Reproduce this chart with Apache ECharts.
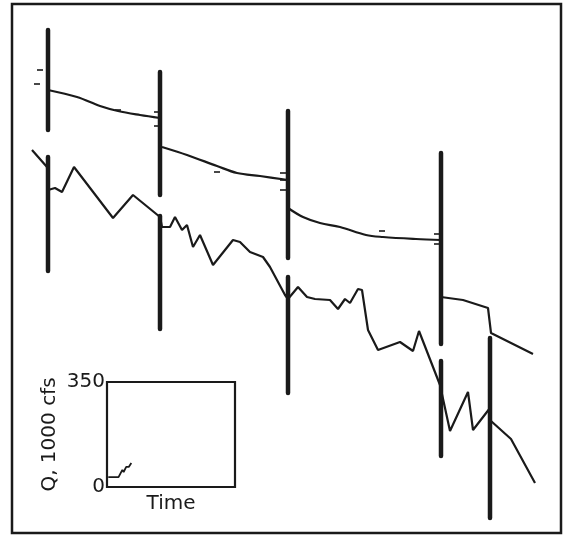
<!DOCTYPE html>
<html>
<head>
<meta charset="utf-8">
<script src="https://cdn.jsdelivr.net/npm/echarts@6/dist/echarts.min.js"></script>
<style>html,body{margin:0;padding:0;background:#fff}#c{width:566px;height:536px}</style>
</head>
<body>
<div id="c"></div>
<script>
// Main panel (arbitrary time / stage units)
const barSegments = [
  [36, 503, 403], [36, 376, 262],
  [148, 461, 338], [148, 317, 204],
  [276, 422, 275], [276, 256, 140],
  [429, 380, 189], [429, 172, 77],
  [478, 195, 15]
];
const upper1 = [[36,443],[65,436],[88,427],[106,422],[128,418],[148,415]];
const upper2 = [[150,386],[175,378],[205,367],[225,360],[248,357],[276,353]];
const upper3 = [[276,325],[291,316],[308,310],[328,306],[354,298],[371,296],[404,294],[429,293]];
const upper4 = [[429,236],[451,233],[476,225],[479,200],[521,179]];
const lower = [[20,383],[35,366],[36,343],[43,345],[50,341],[62,366],[101,315],[121,338],[148,316],
  [150,306],[158,306],[163,316],[170,303],[175,308],[181,286],[188,298],[201,268],[221,293],[228,291],
  [238,281],[251,276],[258,266],[273,238],[276,234],[286,246],[295,236],[303,234],[318,233],[326,224],
  [333,234],[338,230],[346,244],[350,243],[356,203],[366,183],[388,191],[401,182],[407,202],[428,148],
  [438,102],[456,141],[461,103],[478,125],[479,112],[499,94],[523,50]];
const tickMarks = [[28,463],[25,449],[106,423],[145,421],[145,407],[205,361],[271,360],[271,353],[271,343],[370,302],[425,299],[425,289]];
// Inset
const insetTime = [1, 9, 12, 13, 15, 17, 19];
const insetQ = [33, 33, 57, 50, 67, 67, 80];

const ink = '#1a1a1a';
const chart = echarts.init(document.getElementById('c'), null, {renderer: 'canvas'});

const lineSeries = (data, width, smooth) => ({
  type: 'line', xAxisIndex: 0, yAxisIndex: 0, data: data, showSymbol: false, symbol: 'none',
  smooth: smooth || false, lineStyle: {color: ink, width: width}, z: 3, silent: true
});

const series = [];
barSegments.forEach(b => {
  series.push({type: 'line', xAxisIndex: 0, yAxisIndex: 0, data: [[b[0], b[1]], [b[0], b[2]]],
    symbol: 'none', lineStyle: {color: ink, width: 4.5, cap: 'round'}, z: 4, silent: true});
});
[upper1, upper2, upper3].forEach(u => series.push(lineSeries(u, 2.2, 0.35)));
series.push(lineSeries(upper4, 2.2, false));
series.push(lineSeries(lower, 2.2, false));
series.push({type: 'scatter', xAxisIndex: 0, yAxisIndex: 0, data: tickMarks, symbol: 'rect',
  symbolSize: [6, 2], itemStyle: {color: ink}, silent: true, z: 5});
series.push({type: 'line', xAxisIndex: 1, yAxisIndex: 1,
  data: insetTime.map((t, i) => [t, insetQ[i]]), symbol: 'none',
  lineStyle: {color: ink, width: 1.8}, silent: true});

chart.setOption({
  animation: false,
  backgroundColor: '#fff',
  grid: [
    {left: 12, top: 4, width: 549, height: 529, show: true, borderColor: ink, borderWidth: 2.5, backgroundColor: 'transparent'},
    {left: 107, top: 382, width: 128, height: 105, show: true, borderColor: ink, borderWidth: 2.2, backgroundColor: 'transparent'}
  ],
  xAxis: [
    {type: 'value', gridIndex: 0, min: 0, max: 549, show: false},
    {type: 'value', gridIndex: 1, min: 0, max: 100, axisLabel: {show: false}, axisTick: {show: false},
      splitLine: {show: false}, axisLine: {show: false},
      name: 'Time', nameLocation: 'middle', nameGap: 7,
      nameTextStyle: {fontFamily: 'DejaVu Sans', fontSize: 20, color: ink, verticalAlign: 'top'}}
  ],
  yAxis: [
    {type: 'value', gridIndex: 0, min: 0, max: 529, show: false},
    {type: 'value', gridIndex: 1, min: 0, max: 350, interval: 350,
      axisLabel: {show: true, margin: 2, fontFamily: 'DejaVu Sans', fontSize: 20, color: ink},
      axisTick: {show: false}, splitLine: {show: false}, axisLine: {show: false},
      name: 'Q, 1000 cfs', nameLocation: 'middle', nameRotate: 90, nameGap: 47,
      nameTextStyle: {fontFamily: 'DejaVu Sans', fontSize: 20, color: ink}}
  ],
  series: series
});
</script>
</body>
</html>
